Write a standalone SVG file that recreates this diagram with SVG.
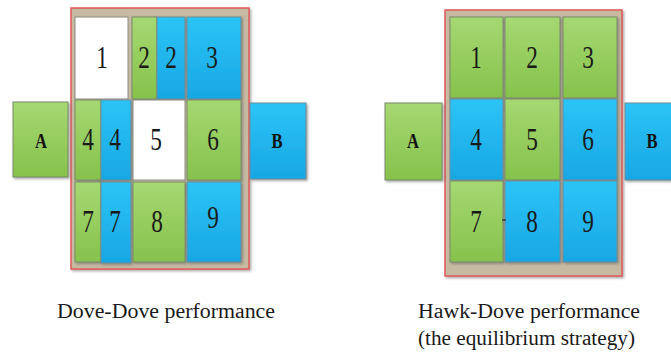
<svg xmlns="http://www.w3.org/2000/svg" width="671" height="356" viewBox="0 0 671 356">
<defs>
<linearGradient id="gg" x1="0" y1="0" x2="0" y2="1"><stop offset="0" stop-color="#a6d872"/><stop offset="1" stop-color="#86c24c"/></linearGradient>
<linearGradient id="bg" x1="0" y1="0" x2="0" y2="1"><stop offset="0" stop-color="#2cc4f6"/><stop offset="1" stop-color="#18a7e4"/></linearGradient>
<filter id="sh" x="-10%" y="-10%" width="130%" height="130%"><feDropShadow dx="1.5" dy="1.5" stdDeviation="0.8" flood-color="#555" flood-opacity="0.5"/></filter>
</defs>
<style>
.frame{fill:#c6baa2;stroke:#e05858;stroke-width:1.5;filter:url(#sh)}
.g{fill:url(#gg);stroke:#7b8a6c;stroke-width:1;filter:url(#sh)}
.b{fill:url(#bg);stroke:#6f8a95;stroke-width:1;filter:url(#sh)}
.w{fill:#ffffff;stroke:#8a8a80;stroke-width:1}
.n{font-family:"Liberation Serif","Times New Roman",serif;font-size:31px;fill:#1a1a1a;text-anchor:middle}
.l{font-family:"Liberation Serif","Times New Roman",serif;font-size:20px;font-weight:bold;fill:#111;text-anchor:middle}
.c{font-family:"Liberation Serif","Times New Roman",serif;font-size:20.5px;fill:#1a1a1a}
</style>

<g id="left-panel">
<rect class="frame" x="71" y="8" width="178" height="261"/>
<g id="L1"><rect class="w" x="75" y="17" width="53" height="82"/><text class="n" transform="translate(102,68) scale(0.75,1)">1</text></g>
<g id="L2g"><rect class="g" x="132" y="17" width="25" height="82"/><text class="n" transform="translate(144,68) scale(0.75,1)">2</text></g>
<g id="L2b"><rect class="b" x="157" y="17" width="28" height="82"/><text class="n" transform="translate(171,68) scale(0.75,1)">2</text></g>
<g id="L3"><rect class="b" x="187" y="17" width="54" height="82"/><text class="n" transform="translate(212,68) scale(0.75,1)">3</text></g>
<g id="L4g"><rect class="g" x="75" y="100" width="26" height="80"/><text class="n" transform="translate(88,150) scale(0.75,1)">4</text></g>
<g id="L4b"><rect class="b" x="101" y="100" width="30" height="80"/><text class="n" transform="translate(115,150) scale(0.75,1)">4</text></g>
<g id="L5"><rect class="w" x="133" y="100" width="52" height="80"/><text class="n" transform="translate(156,150) scale(0.75,1)">5</text></g>
<g id="L6"><rect class="g" x="187" y="100" width="54" height="80"/><text class="n" transform="translate(213,150) scale(0.75,1)">6</text></g>
<g id="L7g"><rect class="g" x="75" y="182" width="26" height="80"/><text class="n" transform="translate(88,232) scale(0.75,1)">7</text></g>
<g id="L7b"><rect class="b" x="101" y="182" width="30" height="81"/><text class="n" transform="translate(115,232) scale(0.75,1)">7</text></g>
<g id="L8"><rect class="g" x="133" y="182" width="52" height="80"/><text class="n" transform="translate(157,232) scale(0.75,1)">8</text></g>
<g id="L9"><rect class="b" x="187" y="182" width="54" height="80"/><text class="n" transform="translate(213,228) scale(0.75,1)">9</text></g>
<g id="LA"><rect class="g" x="13" y="102" width="55" height="75"/><text class="l" transform="translate(41,148) scale(0.83,1)">A</text></g>
<g id="LB"><rect class="b" x="250" y="103" width="56" height="76"/><text class="l" transform="translate(277,148) scale(0.83,1)">B</text></g>
<text class="c" x="57" y="318" textLength="218" lengthAdjust="spacingAndGlyphs">Dove-Dove performance</text>
</g>

<g id="right-panel">
<rect class="frame" x="445" y="10" width="177" height="266"/>
<g id="R1"><rect class="g" x="450" y="17" width="53" height="81"/><text class="n" transform="translate(476,68) scale(0.75,1)">1</text></g>
<g id="R2"><rect class="g" x="505" y="17" width="55" height="81"/><text class="n" transform="translate(532,68) scale(0.75,1)">2</text></g>
<g id="R3"><rect class="g" x="563" y="17" width="54" height="81"/><text class="n" transform="translate(588,68) scale(0.75,1)">3</text></g>
<g id="R4"><rect class="b" x="450" y="99" width="53" height="81"/><text class="n" transform="translate(476,150) scale(0.75,1)">4</text></g>
<g id="R5"><rect class="g" x="505" y="99" width="55" height="81"/><text class="n" transform="translate(532,150) scale(0.75,1)">5</text></g>
<g id="R6"><rect class="b" x="563" y="99" width="54" height="81"/><text class="n" transform="translate(588,150) scale(0.75,1)">6</text></g>
<g id="R7"><rect class="g" x="450" y="181" width="53" height="81"/><text class="n" transform="translate(476,232) scale(0.75,1)">7</text></g>
<g id="R8"><rect class="b" x="505" y="181" width="55" height="81"/><text class="n" transform="translate(532,232) scale(0.75,1)">8</text></g>
<g id="R9"><rect class="b" x="563" y="181" width="54" height="81"/><text class="n" transform="translate(588,232) scale(0.75,1)">9</text></g>
<line x1="502" y1="220" x2="506" y2="220" stroke="#222" stroke-width="1.2"/>
<g id="RA"><rect class="g" x="385" y="103" width="57" height="77"/><text class="l" transform="translate(413,148) scale(0.83,1)">A</text></g>
<g id="RB"><rect class="b" x="625" y="103" width="52" height="77"/><text class="l" transform="translate(652,148) scale(0.83,1)">B</text></g>
<text class="c" x="418" y="318" textLength="222" lengthAdjust="spacingAndGlyphs">Hawk-Dove performance</text>
<text class="c" x="418" y="345" textLength="217" lengthAdjust="spacingAndGlyphs">(the equilibrium strategy)</text>
</g>
</svg>
